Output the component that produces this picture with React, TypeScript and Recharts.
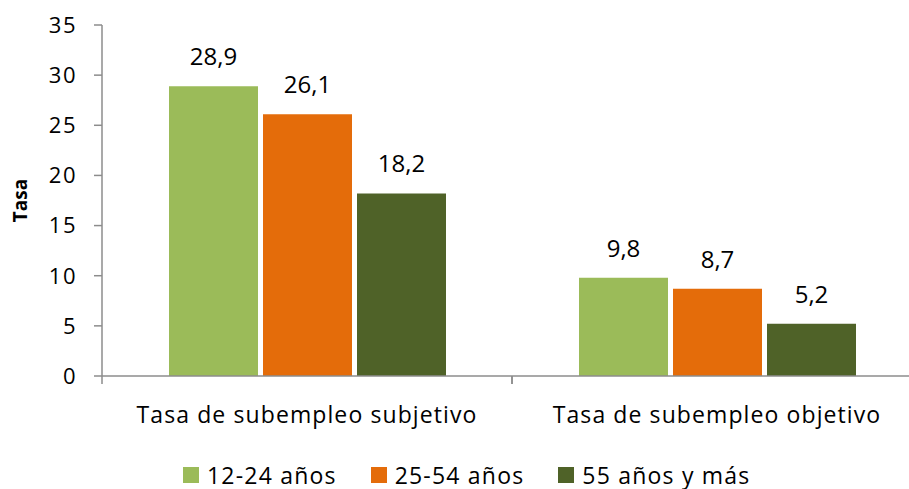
import { BarChart, Bar, XAxis, YAxis, Legend, LabelList } from "recharts";

const categories = ["Tasa de subempleo subjetivo", "Tasa de subempleo objetivo"];
const seriesNames = ["12-24 años", "25-54 años", "55 años y más"];
const jovenes = [28.9, 9.8];
const adultos = [26.1, 8.7];
const mayores = [18.2, 5.2];
const yTicks = [0, 5, 10, 15, 20, 25, 30, 35];
const colors = ["#9BBB59", "#E46C0A", "#4F6228"];

const data = categories.map((c, i) => ({
  name: c,
  a: jovenes[i],
  b: adultos[i],
  c: mayores[i],
}));

const FONT = "'Open Sans', sans-serif";
const AXIS = "#8c8c8c";

const fmt = (v: any) => Number(v).toFixed(1).replace(".", ",");

// category labels centered, tick marks drawn at the band edges
function CategoryTick(props: any) {
  const { x, y, payload } = props;
  const half = payload.offset || 0;
  return (
    <g>
      <line x1={x - half} x2={x - half} y1={y - 8} y2={y} stroke={AXIS} strokeWidth={1.5} />
      <line x1={x + half} x2={x + half} y1={y - 8} y2={y} stroke={AXIS} strokeWidth={1.5} />
      <text x={x} y={y + 39} textAnchor="middle" fontFamily={FONT} fontSize={23} letterSpacing={1.1} fill="#000">
        {payload.value}
      </text>
    </g>
  );
}

function LegendContent() {
  return (
    <div style={{ display: "flex", alignItems: "center", height: 26, fontFamily: FONT, fontSize: 23, lineHeight: "23px", color: "#000" }}>
      {seriesNames.map((s, i) => (
        <div key={s} style={{ display: "flex", alignItems: "center", marginRight: i < 2 ? 34 : 0 }}>
          <span style={{ width: 16, height: 16, background: colors[i], display: "inline-block", marginRight: 8 }} />
          <span style={{ letterSpacing: 1.2, whiteSpace: "nowrap" }}>{s}</span>
        </div>
      ))}
    </div>
  );
}

export default function App() {
  return (
    <div style={{ position: "absolute", left: 0, top: 0, width: 909, height: 489, background: "#fff" }}>
      <BarChart
        width={909}
        height={489}
        data={data}
        margin={{ top: 25, right: -13, left: 0, bottom: 27 }}
        barCategoryGap={67}
        barGap={5}
      >
        <XAxis
          dataKey="name"
          axisLine={{ stroke: AXIS, strokeWidth: 1.5 }}
          tickLine={false}
          tickSize={8}
          tickMargin={0}
          height={60}
          tick={<CategoryTick />}
          interval={0}
        />
        <YAxis
          domain={[0, 35]}
          ticks={yTicks}
          width={102}
          axisLine={{ stroke: AXIS, strokeWidth: 1.5 }}
          tickLine={{ stroke: AXIS, strokeWidth: 1.5 }}
          tickSize={8}
          tickMargin={17}
          tick={{ fill: "#000", fontSize: 22, fontFamily: FONT, letterSpacing: 1.5 }}
          label={{
            value: "Tasa",
            angle: -90,
            position: "insideLeft",
            offset: 20,
            style: { textAnchor: "middle", fontWeight: "bold", fontSize: 19, fontFamily: FONT, fill: "#000" },
          }}
        />
        <Legend content={<LegendContent />} wrapperStyle={{ left: 183, top: 462, width: "auto", height: 26 }} />
        {["a", "b", "c"].map((k, i) => (
          <Bar key={k} dataKey={k} name={seriesNames[i]} fill={colors[i]} isAnimationActive={false}>
            <LabelList
              dataKey={k}
              position="top"
              offset={21}
              formatter={fmt}
              fill="#000"
              fontSize={24}
              fontFamily={FONT}
            />
          </Bar>
        ))}
      </BarChart>
    </div>
  );
}
